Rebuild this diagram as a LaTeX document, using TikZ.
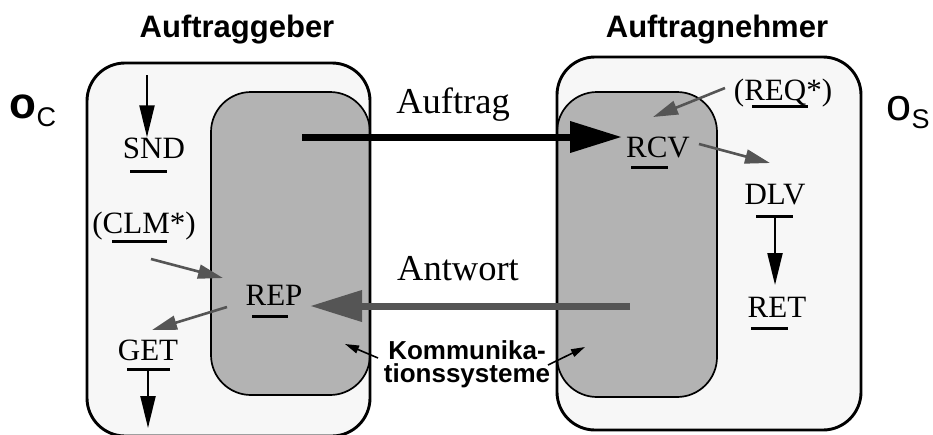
\documentclass[tikz,border=0pt]{standalone}
\usepackage{fontspec}
\setmainfont{Liberation Serif}
\setsansfont{Liberation Sans}
\usetikzlibrary{arrows.meta}
\definecolor{paper}{HTML}{F7F7F7}
\definecolor{commgray}{HTML}{B3B3B3}
\definecolor{flowgray}{HTML}{555555}

\begin{document}
\begin{tikzpicture}[x=1pt,y=-1pt,
  outerfill/.style={fill=paper, rounded corners=38pt},
  outerline/.style={draw=black, line width=2.9pt, rounded corners=38pt},
  commbox/.style={fill=commgray, draw=black, line width=1.7pt, rounded corners=40pt},
  heading/.style={font=\fontsize{31}{36}\selectfont\sffamily\bfseries, anchor=base, inner sep=0pt},
  prim/.style={font=\fontsize{31}{36}\selectfont\rmfamily, anchor=base, inner sep=0pt},
  msg/.style={font=\fontsize{36.5}{40}\selectfont\rmfamily, anchor=base, inner sep=0pt},
  commlabel/.style={font=\fontsize{26}{23.5}\selectfont\sffamily\bfseries, anchor=north, inner sep=0pt, align=center},
  uline/.style={line width=3pt},
  localflow/.style={line width=2.2pt, -{Triangle[length=32pt, width=15pt]}},
  grayflow/.style={draw=flowgray, line width=2.6pt, -{Triangle[length=25pt, width=14pt]}},
  bigblack/.style={line width=7pt, -{Triangle[length=52pt, width=30pt]}},
  biggray/.style={draw=flowgray, line width=7pt, -{Triangle[length=52pt, width=30pt]}},
  pointer/.style={line width=1.6pt, -{Triangle[length=14pt, width=8pt]}}
]
\useasboundingbox (0,0) rectangle (933,434);

% client and server frames
\fill[outerfill] (87,63) rectangle (370,436);
\fill[outerfill] (557,57) rectangle (861,430);
% communication systems
\path[commbox] (211,92) rectangle (370,395);
\path[commbox] (557,92) rectangle (717,397);
\path[outerline] (87,63) rectangle (370,436);
\path[outerline] (557,57) rectangle (861,430);

% headings
\node[heading] (client) at (237,37) {Auftraggeber};
\node[heading] (server) at (717,37) {Auftragnehmer};
\node[anchor=base, inner sep=0pt] (oc) at (33,118)
  {\sffamily\fontsize{44}{44}\selectfont\bfseries o\raisebox{-8pt}{\fontsize{27}{27}\selectfont\mdseries C}};
\node[anchor=base, inner sep=0pt] (os) at (908,120)
  {\sffamily\fontsize{45}{45}\selectfont o\raisebox{-8pt}{\fontsize{27}{27}\selectfont S}};

% service primitives
\node[prim] (snd) at (154,158) {SND};
\node[prim] (clm) at (144,233) {(CLM*)};
\node[prim] (rep) at (274,305) {REP};
\node[prim] (get) at (148,360) {GET};
\node[prim] (req) at (783,100) {(REQ*)};
\node[prim] (rcv) at (658,157) {RCV};
\node[prim] (dlv) at (775,204) {DLV};
\node[prim] (ret) at (777,317) {RET};

% underlines of the primitives
\draw[uline] (130,171) -- (167,171);
\draw[uline] (112,241) -- (167,241);
\draw[uline] (252,316) -- (288,316);
\draw[uline] (127,369) -- (170,369);
\draw[uline] (752,106) -- (808,106);
\draw[uline] (631,167) -- (668,167);
\draw[uline] (756,216) -- (793,216);
\draw[uline] (751,328) -- (788,328);

% messages
\node[msg] (auftrag) at (453,113) {Auftrag};
\node[msg] (antwort) at (458,280) {Antwort};
\node[commlabel] (komm) at (467,340) {Kommunika-\\tionssysteme};

% end points of the flows
\coordinate (sndin) at (147,75);
\coordinate (getul) at (148,369);
\coordinate (getout) at (148,428);
\coordinate (clmout) at (151,259);
\coordinate (repin) at (223,278);
\coordinate (repout) at (227,307);
\coordinate (getin) at (152,330);
\coordinate (reqout) at (725,88);
\coordinate (rcvin) at (653,117);
\coordinate (rcvout) at (699,144);
\coordinate (dlvin) at (770,163);
\coordinate (dlvul) at (775,216);
\coordinate (retin) at (775,285);
\coordinate (sendstart) at (302,137);
\coordinate (sendend) at (622,137);
\coordinate (replystart) at (630,306);
\coordinate (replyend) at (310,306);
\coordinate (kommleft) at (378,358);
\coordinate (kommright) at (548,365);
\coordinate (commleft) at (345,344);
\coordinate (commright) at (585,347);

% local flows
\draw[localflow] (sndin) -- (sndin |- snd.north);
\draw[localflow] (getul) -- (getout);
\draw[localflow] (dlvul) -- (retin);
\draw[grayflow] (clmout) -- (repin);
\draw[grayflow] (repout) -- (getin);
\draw[grayflow] (reqout) -- (rcvin);
\draw[grayflow] (rcvout) -- (dlvin);

% transfer between the communication systems
\draw[bigblack] (sendstart) -- (sendend);
\draw[biggray] (replystart) -- (replyend);

% pointers to the communication systems
\draw[pointer] (kommleft) -- (commleft);
\draw[pointer] (kommright) -- (commright);
\end{tikzpicture}
\end{document}
